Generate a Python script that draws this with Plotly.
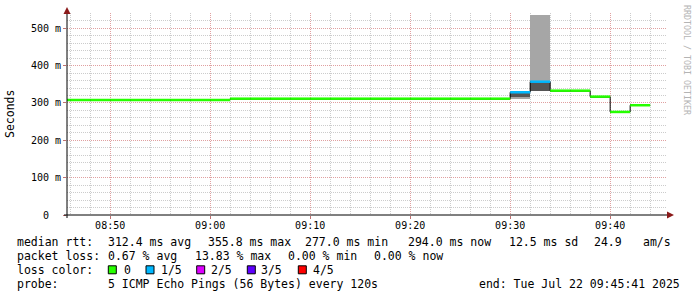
import plotly.graph_objects as go
import pandas as pd

# ---------------- data ----------------
bucket_start = pd.date_range("2025-07-22 08:44", periods=30, freq="2min")

median_ms = [308, 308, 308, 308, 308, 308, 308, 308, 308,
             311.5,
             311.5, 311.5, 311.5, 311.5, 311.5, 311.5, 311.5, 311.5, 311.5, 311.5, 311.5, 311.5, 311.5,
             328.7, 357, 333, 333, 317, 276, 294]
smoke_lo = [306, 306, 306, 306, 306, 306, 306, 306, 306,
            309.5,
            309.5, 309.5, 309.5, 309.5, 309.5, 309.5, 309.5, 309.5, 309.5, 309.5, 309.5, 309.5, 309.5,
            311, 332, 331, 331, 315, 274, 292]
smoke_hi = [310, 310, 310, 310, 310, 310, 310, 310, 310,
            313.5,
            313.5, 313.5, 313.5, 313.5, 313.5, 313.5, 313.5, 313.5, 313.5, 313.5, 313.5, 313.5, 313.5,
            329, 536, 335, 335, 319, 278, 296]
core_lo = [307, 307, 307, 307, 307, 307, 307, 307, 307,
           310.5,
           310.5, 310.5, 310.5, 310.5, 310.5, 310.5, 310.5, 310.5, 310.5, 310.5, 310.5, 310.5, 310.5,
           317, 332, 332, 332, 316, 275, 293]
core_hi = [309, 309, 309, 309, 309, 309, 309, 309, 309,
           312.5,
           312.5, 312.5, 312.5, 312.5, 312.5, 312.5, 312.5, 312.5, 312.5, 312.5, 312.5, 312.5, 312.5,
           328.7, 357, 334, 334, 318, 277, 295]
loss_level = [0, 0, 0, 0, 0, 0, 0, 0, 0, 0, 0, 0, 0, 0, 0, 0, 0, 0, 0, 0, 0, 0, 0,
              1, 1, 0, 0, 0, 0, 0]

loss_labels = ["0", "1/5", "2/5", "3/5", "4/5"]
loss_colors = ["#26ff00", "#00b8ff", "#dd00ff", "#5e00ff", "#ff0000"]

y_tickvals = [0, 100, 200, 300, 400, 500]
y_ticktext = ["0\u00a0\u00a0", "100 m", "200 m", "300 m", "400 m", "500 m"]

rtt_stats = ["312.4 ms avg", "355.8 ms max", "277.0 ms min", "294.0 ms now", "12.5 ms sd", "24.9", "am/s"]
loss_stats = ["0.67 % avg", "13.83 % max", "0.00 % min", "0.00 % now"]
probe_text = "5 ICMP Echo Pings (56 Bytes) every 120s"
end_text = "end: Tue Jul 22 09:45:41 2025"

x_start = "2025-07-22 08:45:41"
x_end = "2025-07-22 09:45:41"

# ---------------- geometry helpers ----------------
W, H = 697, 297
L, R, T, B = 67, 30, 13, 82
PW, PH = W - L - R, H - T - B


def px(xp):
    return (xp - L) / PW


def py(yp):
    return (T + PH - yp) / PH


FONT = "DejaVu Sans Mono"
step = pd.Timedelta(minutes=2)
centers = bucket_start + step / 2

fig = go.Figure()

# smoke (outer light band)
fig.add_bar(x=centers, base=smoke_lo, y=[h - l for h, l in zip(smoke_hi, smoke_lo)],
            width=120000, marker=dict(color="#a6a6a6", line_width=0), hoverinfo="skip")
# smoke (inner dark band)
fig.add_bar(x=centers, base=core_lo, y=[h - l for h, l in zip(core_hi, core_lo)],
            width=120000, marker=dict(color="#555555", line_width=0), hoverinfo="skip")

# black step line for the median (gives the vertical connectors)
step_x = list(bucket_start) + [bucket_start[-1] + step]
step_y = list(median_ms) + [median_ms[-1]]
fig.add_scatter(x=step_x, y=step_y, mode="lines", line=dict(color="#000000", width=1, shape="hv"),
                hoverinfo="skip")

# coloured median segments by loss level
for lvl, col in enumerate(loss_colors):
    xs, ys = [], []
    for s, m, lo in zip(bucket_start, median_ms, loss_level):
        if lo == lvl:
            xs += [s, s + step, None]
            ys += [m, m, None]
    if xs:
        fig.add_scatter(x=xs, y=ys, mode="lines", line=dict(color=col, width=2.5), hoverinfo="skip")

grid_major = "#e0a0a0"
grid_minor = "#cccccc"

fig.update_layout(
    width=W, height=H,
    margin=dict(l=L, r=R, t=T, b=B, pad=0),
    paper_bgcolor="white", plot_bgcolor="white",
    showlegend=False, barmode="overlay", bargap=0,
    font=dict(family=FONT, color="#000000"),
    xaxis=dict(
        type="date", range=[x_start, x_end],
        tick0="2025-07-22 08:50", dtick=600000, tickformat="%H:%M",
        showgrid=True, gridcolor=grid_major, gridwidth=1, griddash="1px,1px",
        minor=dict(dtick=120000, tick0="2025-07-22 08:50", showgrid=True, gridcolor=grid_minor,
                   gridwidth=1, griddash="1px,1px"),
        zeroline=False, showline=False,
        ticks="outside", ticklen=3, tickcolor="#c07070", tickwidth=1,
        tickfont=dict(family=FONT, size=10, color="#000000"),
        ticklabelstandoff=-2,
        fixedrange=True,
    ),
    yaxis=dict(
        range=[0, 541], tickvals=y_tickvals, ticktext=y_ticktext,
        showgrid=True, gridcolor=grid_major, gridwidth=1, griddash="1px,1px",
        minor=dict(dtick=20, tick0=0, showgrid=True, gridcolor=grid_minor, gridwidth=1, griddash="1px,1px"),
        zeroline=False, showline=False,
        ticks="outside", ticklen=3, tickcolor="#c07070", tickwidth=1,
        tickfont=dict(family=FONT, size=10, color="#000000"),
        ticklabelstandoff=0,
        fixedrange=True,
    ),
)

shapes = []
# axis lines
shapes.append(dict(type="line", xref="paper", yref="paper", x0=px(64), x1=px(668), y0=0, y1=0,
                   line=dict(color="#000000", width=1), layer="above"))
shapes.append(dict(type="line", xref="paper", yref="paper", x0=0, x1=0, y0=py(218), y1=py(12),
                   line=dict(color="#000000", width=1), layer="above"))
# arrows
shapes.append(dict(type="path", xref="paper", yref="paper",
                   path=f"M {px(667)} {py(211.5)} L {px(674)} {py(215)} L {px(667)} {py(218.5)} Z",
                   fillcolor="#8b1a1a", line=dict(color="#8b1a1a", width=0), layer="above"))
shapes.append(dict(type="path", xref="paper", yref="paper",
                   path=f"M {px(63.5)} {py(14)} L {px(67)} {py(7)} L {px(70.5)} {py(14)} Z",
                   fillcolor="#8b1a1a", line=dict(color="#8b1a1a", width=0), layer="above"))

annotations = []


def txt(s, x, y, anchor="left", size=11.5, color="#000000", angle=0):
    annotations.append(dict(text=s, x=px(x), y=py(y), xref="paper", yref="paper",
                            xanchor=anchor, yanchor="middle", showarrow=False,
                            textangle=angle, borderpad=0,
                            font=dict(family=FONT, size=size, color=color)))


# y-axis title
txt("Seconds", 10, 114, anchor="center", angle=-90)
# watermark
txt("RRDTOOL / TOBI OETIKER", 687, 60, anchor="center", size=8.3, color="#b4b4b4", angle=90)

# legend lines
row_y = [242, 255.8, 269.8, 283.8]
txt("median rtt:", 16, row_y[0])
for s, x in zip(rtt_stats, [107, 207.3, 304, 407.3, 507.7, 593.3, 641.7]):
    txt(s, x, row_y[0])
txt("packet loss:", 16, row_y[1])
for s, x in zip(loss_stats, [107, 194, 286.7, 372.7]):
    txt(s, x, row_y[1])
txt("loss color:", 16, row_y[2])
box_x = [108.3, 146, 196.7, 247.3, 298.3]
lab_x = [123.3, 160, 210, 260, 311.7]
for lab, col, bx, lx in zip(loss_labels, loss_colors, box_x, lab_x):
    shapes.append(dict(type="rect", xref="paper", yref="paper",
                       x0=px(bx), x1=px(bx + 8), y0=py(row_y[2] + 4), y1=py(row_y[2] - 4),
                       fillcolor=col, line=dict(color="#000000", width=1)))
    txt(lab, lx, row_y[2])
txt("probe:", 16, row_y[3])
txt(probe_text, 107, row_y[3])
txt(end_text, 478.3, row_y[3])

fig.update_layout(shapes=shapes, annotations=annotations)

fig.write_html("out.html")
